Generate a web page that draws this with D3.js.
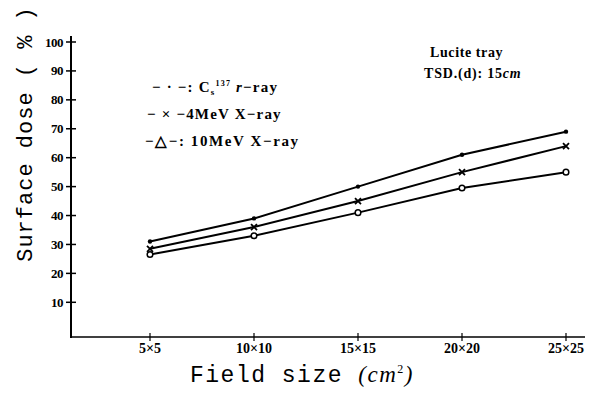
<!DOCTYPE html>
<html>
<head>
<meta charset="utf-8">
<script src="https://cdn.jsdelivr.net/npm/d3@7"></script>
<style>
  body { margin: 0; background: #fff; }
  svg { display: block; }
</style>
</head>
<body>
<div id="chart"></div>
<script>
const fieldSizes = ["5×5", "10×10", "15×15", "20×20", "25×25"];
const csDose = [31, 39, 50, 61, 69];
const mv4Dose = [28.5, 36, 45, 55, 64];
const mv10Dose = [26.5, 33, 41, 49.5, 55];
const yTicks = [10, 20, 30, 40, 50, 60, 70, 80, 90, 100];

const series = [
  { name: "cs", values: csDose, marker: "dot" },
  { name: "mv4", values: mv4Dose, marker: "cross" },
  { name: "mv10", values: mv10Dose, marker: "circle" }
];

const width = 593, height = 405;
const svg = d3.select("#chart").append("svg")
  .attr("width", width)
  .attr("height", height);

const x = d3.scalePoint()
  .domain(fieldSizes)
  .range([150, 566]);

const y = d3.scaleLinear()
  .domain([-2, 100])
  .range([337, 42]);

const serif = "Liberation Serif, serif";

// axes lines
svg.append("line")
  .attr("x1", 71).attr("x2", 71)
  .attr("y1", 36).attr("y2", 338)
  .attr("stroke", "#000").attr("stroke-width", 2);
svg.append("line")
  .attr("x1", 70).attr("x2", 585)
  .attr("y1", 337).attr("y2", 337)
  .attr("stroke", "#000").attr("stroke-width", 1.5);

// y ticks
const yt = svg.append("g");
yt.selectAll("line").data(yTicks).enter().append("line")
  .attr("x1", 66).attr("x2", 76)
  .attr("y1", d => y(d)).attr("y2", d => y(d))
  .attr("stroke", "#000").attr("stroke-width", 1.5);
yt.selectAll("text").data(yTicks).enter().append("text")
  .attr("x", 63).attr("y", d => y(d) + 4.5)
  .attr("text-anchor", "end")
  .style("font-family", serif)
  .style("font-weight", "bold")
  .style("font-size", "13px")
  .style("letter-spacing", "-0.5px")
  .text(d => d);

// x ticks
const xt = svg.append("g");
xt.selectAll("line").data(fieldSizes).enter().append("line")
  .attr("x1", d => x(d)).attr("x2", d => x(d))
  .attr("y1", 333).attr("y2", 341)
  .attr("stroke", "#000").attr("stroke-width", 1.2);
xt.selectAll("text").data(fieldSizes).enter().append("text")
  .attr("x", d => x(d)).attr("y", 353)
  .attr("text-anchor", "middle")
  .style("font-family", serif)
  .style("font-weight", "bold")
  .style("font-size", "14px")
  .text(d => d);

// lines
const line = d3.line()
  .x((d, i) => x(fieldSizes[i]))
  .y(d => y(d));

series.forEach(s => {
  svg.append("path")
    .attr("d", line(s.values))
    .attr("fill", "none")
    .attr("stroke", "#000")
    .attr("stroke-width", 2);

  const g = svg.append("g");
  s.values.forEach((v, i) => {
    const cx = x(fieldSizes[i]), cy = y(v);
    if (s.marker === "dot") {
      g.append("circle").attr("cx", cx).attr("cy", cy).attr("r", 2.2).attr("fill", "#000");
    } else if (s.marker === "cross") {
      g.append("path")
        .attr("d", `M${cx - 3},${cy - 3}L${cx + 3},${cy + 3}M${cx - 3},${cy + 3}L${cx + 3},${cy - 3}`)
        .attr("stroke", "#000").attr("stroke-width", 1.8);
    } else {
      g.append("circle").attr("cx", cx).attr("cy", cy).attr("r", 2.8)
        .attr("fill", "#fff").attr("stroke", "#000").attr("stroke-width", 1.5);
    }
  });
});

// legend
function legText(xp, yp, size, spacing) {
  return svg.append("text").attr("x", xp).attr("y", yp)
    .style("font-family", serif).style("font-weight", "bold")
    .style("font-size", size + "px").style("letter-spacing", spacing + "px");
}
const l1 = legText(152, 92, 15, 1.2);
l1.append("tspan").text("− · −: C");
l1.append("tspan").attr("dy", 3).style("font-size", "9px").text("s");
l1.append("tspan").attr("dy", -9).style("font-size", "8px").text("137");
l1.append("tspan").attr("dy", 6).style("font-style", "italic").text(" r");
l1.append("tspan").text("−ray");

legText(147, 119, 15, 1.2).text("− × −4MeV X−ray");
legText(145, 146, 15, 1.6).text("−△−: 10MeV X−ray");

// annotation
legText(430, 57, 14, 0.6).text("Lucite tray");
const t2 = legText(424, 78, 14, 0.8);
t2.append("tspan").text("TSD.(d): 15");
t2.append("tspan").style("font-style", "italic").text("cm");

// axis titles
svg.append("text")
  .attr("transform", "translate(32,134) rotate(-90)")
  .attr("text-anchor", "middle")
  .style("font-family", "Liberation Mono, monospace")
  .style("font-size", "22px")
  .style("letter-spacing", "1px")
  .text("Surface dose ( % )");

const xl = svg.append("text")
  .attr("x", 302).attr("y", 382)
  .attr("text-anchor", "middle")
  .style("font-family", "Liberation Mono, monospace")
  .style("font-size", "23px")
  .style("letter-spacing", "1.5px");
xl.append("tspan").text("Field size ");
xl.append("tspan").style("font-family", serif).style("font-style", "italic").text("(cm");
xl.append("tspan").attr("dy", -9).style("font-size", "12px").style("font-family", serif).text("2");
xl.append("tspan").attr("dy", 9).style("font-family", serif).style("font-style", "italic").text(")");
</script>
</body>
</html>
